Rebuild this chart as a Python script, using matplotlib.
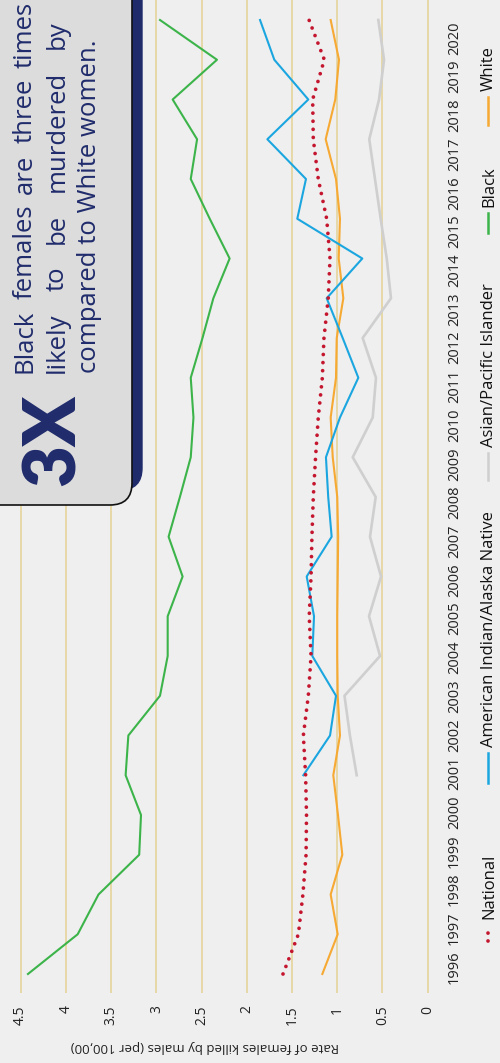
import numpy as np
import matplotlib
matplotlib.use("Agg")
import matplotlib.pyplot as plt
from matplotlib.patches import FancyBboxPatch
from matplotlib.lines import Line2D

# ---------------- data ----------------
years = list(range(1996, 2021))
national = [1.60, 1.43, 1.38, 1.345, 1.34, 1.35, 1.375, 1.32, 1.29, 1.31, 1.29, 1.28, 1.265,
            1.24, 1.21, 1.165, 1.147, 1.10, 1.08, 1.117, 1.21, 1.265, 1.272, 1.143, 1.312]
black = [4.42, 3.87, 3.64, 3.19, 3.17, 3.34, 3.31, 2.96, 2.875, 2.875, 2.71, 2.865, 2.74,
         2.62, 2.59, 2.62, 2.49, 2.37, 2.19, 2.41, 2.62, 2.55, 2.82, 2.33, 2.96]
white = [1.165, 0.995, 1.073, 0.944, 0.992, 1.044, 0.970, 0.995, 1.00, 1.00, 0.995, 0.99, 1.00,
         1.05, 1.073, 1.014, 1.006, 0.933, 0.984, 0.97, 1.014, 1.128, 1.022, 0.981, 1.073]
years_short = list(range(2001, 2021))
aian = [1.375, 1.08, 1.014, 1.276, 1.257, 1.338, 1.062, 1.10, 1.125, 0.97, 0.767, 0.94,
        1.117, 0.723, 1.442, 1.346, 1.773, 1.32, 1.696, 1.854]
api = [0.785, 0.86, 0.92, 0.527, 0.649, 0.516, 0.638, 0.575, 0.829, 0.608, 0.572, 0.719,
       0.406, 0.453, 0.52, 0.583, 0.646, 0.538, 0.483, 0.546]
value_ticks = [0, 0.5, 1, 1.5, 2, 2.5, 3, 3.5, 4, 4.5]
value_labels = ["0", "0.5", "1", "1.5", "2", "2.5", "3", "3.5", "4", "4.5"]
series_names = ["National", "American Indian/Alaska Native", "Asian/Pacific Islander", "Black", "White"]
axis_label = "Rate of females killed by males (per 100,00)"
callout_big = "3X"
callout_lines = ["Black females are three times", "likely to be murdered by", "compared to White women."]

# ---------------- style ----------------
BG = "#efefef"
GRID = "#e6d6a2"
C_NAT = "#c4162f"
C_AIAN = "#1ba6e0"
C_API = "#cfcfcf"
C_BLACK = "#3cb44a"
C_WHITE = "#f6a933"
NAVY = "#1f2b6b"
FONT = ["Open Sans", "DejaVu Sans"]

W, H = 500, 1063
fig = plt.figure(figsize=(W / 100, H / 100), dpi=100, facecolor=BG)

def fx(px):
    return px / W

def fy(py):
    return 1 - py / H

# main axes: value along horizontal (inverted), years along vertical
ax_l, ax_r, ax_t, ax_b = 10, 440, 0, 993
ax = fig.add_axes([fx(ax_l), fy(ax_b), fx(ax_r - ax_l), (ax_b - ax_t) / H])
ax.set_facecolor(BG)
px_per_unit = 90.44
x_zero = 427.7
ax.set_xlim((x_zero - ax_l) / px_per_unit, (x_zero - ax_r) / px_per_unit)
px_per_year = 39.75
y_1996 = 974
ax.set_ylim(1996 - (ax_b - y_1996) / px_per_year, 1996 + (y_1996 - ax_t) / px_per_year)

for s in ax.spines.values():
    s.set_visible(False)
ax.set_xticks(value_ticks)
ax.set_xticklabels(value_labels, rotation=90, fontsize=10, family=FONT, color="#222222")
ax.tick_params(axis="x", length=0, pad=9)
for lbl in ax.get_xticklabels():
    lbl.set_va("top")
ax.grid(axis="x", color=GRID, lw=1.3)
ax.set_axisbelow(True)

# year labels on the right (slightly compressed label pitch, as in the reference)
label_pos = [1996.176 + i * 0.9738 for i in range(len(years))]
ax.yaxis.tick_right()
ax.set_yticks(label_pos)
ax.set_yticklabels([str(y) for y in years], rotation=90, fontsize=10.5, family=FONT,
                   color="#222222", va="center", ha="left")
ax.tick_params(axis="y", length=0, pad=5)

lw = 1.5
ax.plot(api, years_short, color=C_API, lw=1.9)
ax.plot(white, years, color=C_WHITE, lw=lw)
ax.plot(aian, years_short, color=C_AIAN, lw=lw)
ax.plot(black, years, color=C_BLACK, lw=lw)
ax.plot(national, years, color=C_NAT, lw=2.7, linestyle=(0, (0.01, 2.15)),
        dash_capstyle="round")

# axis title (upside down, like the rotated original)
fig.text(fx(205), fy(1047), axis_label, rotation=180, ha="center", va="center",
         fontsize=9.5, family=FONT, color="#222222")

# ---------------- overlay (pixel coordinates) ----------------
ov = fig.add_axes([0, 0, 1, 1], zorder=5)
ov.set_xlim(0, W)
ov.set_ylim(H, 0)
ov.axis("off")
ov.patch.set_alpha(0)

# callout box with navy shadow
shadow = FancyBboxPatch((-40, -40), 40 + 142, 40 + 490, boxstyle="round,pad=0,rounding_size=22",
                        facecolor=NAVY, edgecolor=NAVY, lw=1)
ov.add_patch(shadow)
box = FancyBboxPatch((-40, -40), 40 + 132, 40 + 505, boxstyle="round,pad=0,rounding_size=22",
                     facecolor="#dcdcdc", edgecolor="#111111", lw=1.2)
ov.add_patch(box)
ov.text(54, 440, callout_big, rotation=90, ha="center", va="center", fontsize=52,
        fontweight="heavy", family=["Lato", "DejaVu Sans"], color=NAVY)

# justified callout text (each word placed along the rotated baseline)
renderer = fig.canvas.get_renderer()
line_x = [25, 57, 90]
line_start = 373
line_end = [2, 20, None]   # None = natural spacing (last line)
fs = 18.5
for lx, t, end in zip(line_x, callout_lines, line_end):
    if end is None:
        ov.text(lx, line_start, t, rotation=90, ha="center", va="bottom", fontsize=fs,
                family=FONT, color=NAVY)
        continue
    words = t.split()
    objs = [ov.text(lx, line_start, w, rotation=90, ha="center", va="bottom", fontsize=fs,
                    family=FONT, color=NAVY) for w in words]
    lens = [o.get_window_extent(renderer).height for o in objs]
    gap = ((line_start - end) - sum(lens)) / (len(words) - 1)
    pos = line_start
    for o, L in zip(objs, lens):
        o.set_position((lx, pos))
        pos -= L + gap

# legend (vertical, reading bottom to top)
leg_x = 488
markers = [(942, 925), (783, 753), (480, 453), (233, 213), (125, 97)]
colors = [C_NAT, C_AIAN, C_API, C_BLACK, C_WHITE]
for (b, t), c, name in zip(markers, colors, series_names):
    if name == "National":
        ov.add_line(Line2D([leg_x, leg_x], [b - 1, t + 1], color=c, lw=2.7,
                           linestyle=(0, (0.01, 2.1)), dash_capstyle="round"))
    else:
        ov.add_line(Line2D([leg_x, leg_x], [b, t], color=c, lw=1.8))
    ov.text(leg_x + 1, t - 6, name, rotation=90, ha="center", va="bottom",
            fontsize=12, family=FONT, color="#111111")

fig.savefig("out.png", dpi=100, facecolor=BG)
